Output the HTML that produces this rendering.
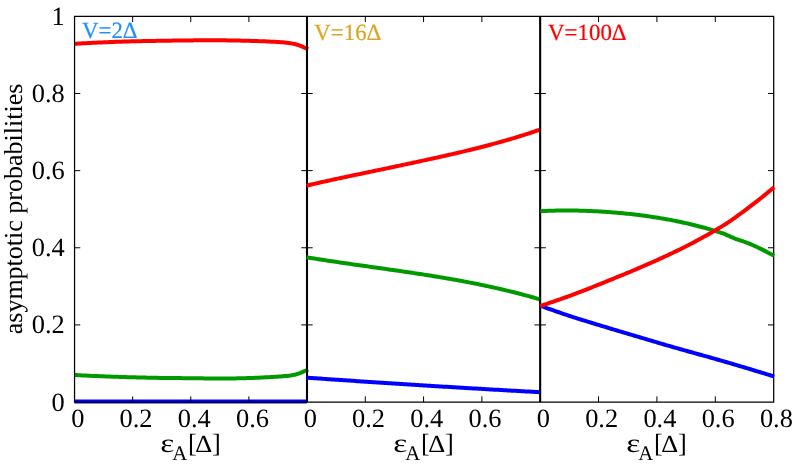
<!DOCTYPE html>
<html><head><meta charset="utf-8"><title>asymptotic probabilities</title>
<style>
html,body{margin:0;padding:0;background:#fff;}
body{width:800px;height:467px;overflow:hidden;position:relative;font-family:"Liberation Serif",serif;}
</style></head><body>
<svg width="800" height="467" viewBox="0 0 800 467" style="position:absolute;left:0;top:0">
<rect width="800" height="467" fill="#fff"/>
<path d="M74.50 43.80L76.46 43.69L78.43 43.58L80.39 43.48L82.36 43.37L84.32 43.27L86.29 43.16L88.25 43.06L90.22 42.97L92.18 42.87L94.15 42.77L96.11 42.68L98.08 42.59L100.04 42.50L102.01 42.41L103.97 42.32L105.94 42.24L107.90 42.16L109.86 42.08L111.83 42.00L113.79 41.93L115.76 41.86L117.72 41.78L119.69 41.72L121.65 41.65L123.62 41.59L125.58 41.53L127.55 41.47L129.51 41.41L131.48 41.36L133.44 41.31L135.41 41.26L137.37 41.22L139.34 41.17L141.30 41.13L143.26 41.09L145.23 41.05L147.19 41.02L149.16 40.98L151.12 40.95L153.09 40.91L155.05 40.88L157.02 40.85L158.98 40.82L160.95 40.79L162.91 40.75L164.88 40.72L166.84 40.69L168.81 40.66L170.77 40.64L172.74 40.61L174.70 40.58L176.66 40.55L178.63 40.53L180.59 40.50L182.56 40.48L184.52 40.46L186.49 40.44L188.45 40.42L190.42 40.40L192.38 40.38L194.35 40.36L196.31 40.35L198.28 40.33L200.24 40.32L202.21 40.31L204.17 40.30L206.14 40.30L208.10 40.30L210.06 40.29L212.03 40.29L213.99 40.30L215.96 40.30L217.92 40.31L219.89 40.32L221.85 40.34L223.82 40.35L225.78 40.37L227.75 40.39L229.71 40.42L231.68 40.45L233.64 40.48L235.61 40.51L237.57 40.55L239.54 40.59L241.50 40.63L243.46 40.68L245.43 40.73L247.39 40.78L249.36 40.83L251.32 40.89L253.29 40.95L255.25 41.01L257.22 41.07L259.18 41.14L261.15 41.21L263.11 41.29L265.08 41.36L267.04 41.45L269.01 41.53L270.97 41.63L272.94 41.72L274.90 41.82L276.86 41.94L278.83 42.06L280.79 42.20L282.76 42.36L284.72 42.55L286.69 42.76L288.65 42.99L290.62 43.27L292.58 43.60L294.55 44.00L296.51 44.47L298.48 45.06L300.44 45.80L302.41 46.69L304.37 47.61L306.34 48.43L308.30 49.00" fill="none" stroke="#ff0000" stroke-width="4.0" stroke-linecap="butt" stroke-linejoin="round"/>
<path d="M74.50 375.00L76.46 375.11L78.43 375.21L80.39 375.32L82.36 375.42L84.32 375.51L86.29 375.61L88.25 375.70L90.22 375.79L92.18 375.88L94.15 375.96L96.11 376.04L98.08 376.12L100.04 376.20L102.01 376.28L103.97 376.35L105.94 376.43L107.90 376.50L109.86 376.57L111.83 376.63L113.79 376.70L115.76 376.76L117.72 376.83L119.69 376.89L121.65 376.95L123.62 377.01L125.58 377.07L127.55 377.13L129.51 377.19L131.48 377.24L133.44 377.30L135.41 377.35L137.37 377.41L139.34 377.46L141.30 377.51L143.26 377.56L145.23 377.61L147.19 377.65L149.16 377.70L151.12 377.74L153.09 377.78L155.05 377.82L157.02 377.85L158.98 377.88L160.95 377.91L162.91 377.94L164.88 377.97L166.84 377.99L168.81 378.01L170.77 378.03L172.74 378.05L174.70 378.06L176.66 378.08L178.63 378.10L180.59 378.11L182.56 378.13L184.52 378.15L186.49 378.16L188.45 378.18L190.42 378.20L192.38 378.23L194.35 378.25L196.31 378.28L198.28 378.30L200.24 378.33L202.21 378.35L204.17 378.38L206.14 378.40L208.10 378.42L210.06 378.44L212.03 378.46L213.99 378.48L215.96 378.49L217.92 378.50L219.89 378.50L221.85 378.50L223.82 378.50L225.78 378.49L227.75 378.47L229.71 378.46L231.68 378.43L233.64 378.41L235.61 378.38L237.57 378.34L239.54 378.30L241.50 378.25L243.46 378.20L245.43 378.15L247.39 378.09L249.36 378.02L251.32 377.95L253.29 377.88L255.25 377.80L257.22 377.72L259.18 377.63L261.15 377.54L263.11 377.44L265.08 377.35L267.04 377.25L269.01 377.15L270.97 377.05L272.94 376.95L274.90 376.84L276.86 376.72L278.83 376.58L280.79 376.44L282.76 376.28L284.72 376.09L286.69 375.89L288.65 375.66L290.62 375.40L292.58 375.09L294.55 374.70L296.51 374.22L298.48 373.63L300.44 372.90L302.41 372.05L304.37 371.17L306.34 370.38L308.30 369.80" fill="none" stroke="#009900" stroke-width="4.0" stroke-linecap="butt" stroke-linejoin="round"/>
<path d="M74.50 401.45L307.00 401.45" fill="none" stroke="#0000ff" stroke-width="4.0" stroke-linecap="butt" stroke-linejoin="round"/>
<path d="M74.55 16.35H773.7V402.05H74.55Z" fill="none" stroke="#000" stroke-width="1.25"/>
<path d="M307.0 16.35V402.05" stroke="#000" stroke-width="2.1"/>
<path d="M540.15 16.35V402.05" stroke="#000" stroke-width="2.1"/>
<path d="M132.66 402.05v-5.7M132.66 16.35v5.7M190.77 402.05v-5.7M190.77 16.35v5.7M248.89 402.05v-5.7M248.89 16.35v5.7M365.29 402.05v-5.7M365.29 16.35v5.7M423.57 402.05v-5.7M423.57 16.35v5.7M481.86 402.05v-5.7M481.86 16.35v5.7M598.54 402.05v-5.7M598.54 16.35v5.7M656.92 402.05v-5.7M656.92 16.35v5.7M715.31 402.05v-5.7M715.31 16.35v5.7M74.55 324.91h5.7M773.7 324.91h-5.7M301.3 324.91h11.4M534.4499999999999 324.91h11.4M74.55 247.77h5.7M773.7 247.77h-5.7M301.3 247.77h11.4M534.4499999999999 247.77h11.4M74.55 170.63h5.7M773.7 170.63h-5.7M301.3 170.63h11.4M534.4499999999999 170.63h11.4M74.55 93.49h5.7M773.7 93.49h-5.7M301.3 93.49h11.4M534.4499999999999 93.49h11.4" stroke="#000" stroke-width="1" fill="none"/>
<path d="M306.50 185.71L308.46 185.24L310.41 184.78L312.37 184.32L314.33 183.86L316.28 183.41L318.24 182.96L320.19 182.51L322.15 182.07L324.11 181.63L326.06 181.20L328.02 180.76L329.98 180.33L331.93 179.91L333.89 179.48L335.84 179.06L337.80 178.64L339.76 178.22L341.71 177.80L343.67 177.38L345.63 176.97L347.58 176.56L349.54 176.14L351.49 175.73L353.45 175.32L355.41 174.91L357.36 174.50L359.32 174.09L361.28 173.68L363.23 173.28L365.19 172.87L367.15 172.46L369.10 172.05L371.06 171.64L373.01 171.23L374.97 170.82L376.93 170.41L378.88 170.00L380.84 169.59L382.80 169.17L384.75 168.76L386.71 168.35L388.66 167.94L390.62 167.52L392.58 167.11L394.53 166.70L396.49 166.28L398.45 165.87L400.40 165.45L402.36 165.03L404.32 164.62L406.27 164.20L408.23 163.78L410.18 163.36L412.14 162.94L414.10 162.52L416.05 162.10L418.01 161.68L419.97 161.26L421.92 160.84L423.88 160.41L425.83 159.99L427.79 159.57L429.75 159.14L431.70 158.71L433.66 158.29L435.62 157.86L437.57 157.43L439.53 157.00L441.48 156.57L443.44 156.13L445.40 155.69L447.35 155.25L449.31 154.81L451.27 154.36L453.22 153.92L455.18 153.46L457.14 153.01L459.09 152.55L461.05 152.09L463.00 151.62L464.96 151.15L466.92 150.68L468.87 150.20L470.83 149.72L472.79 149.24L474.74 148.75L476.70 148.26L478.65 147.76L480.61 147.26L482.57 146.76L484.52 146.25L486.48 145.73L488.44 145.22L490.39 144.70L492.35 144.17L494.31 143.64L496.26 143.10L498.22 142.56L500.17 142.02L502.13 141.47L504.09 140.91L506.04 140.35L508.00 139.79L509.96 139.21L511.91 138.64L513.87 138.06L515.82 137.47L517.78 136.87L519.74 136.27L521.69 135.66L523.65 135.04L525.61 134.42L527.56 133.78L529.52 133.15L531.47 132.50L533.43 131.85L535.39 131.18L537.34 130.51L539.30 129.84" fill="none" stroke="#ff0000" stroke-width="4.0" stroke-linecap="butt" stroke-linejoin="round"/>
<path d="M306.50 257.32L308.46 257.64L310.41 257.95L312.37 258.26L314.33 258.57L316.28 258.88L318.24 259.18L320.19 259.49L322.15 259.79L324.11 260.09L326.06 260.38L328.02 260.68L329.98 260.97L331.93 261.27L333.89 261.56L335.84 261.85L337.80 262.14L339.76 262.42L341.71 262.71L343.67 262.99L345.63 263.28L347.58 263.56L349.54 263.84L351.49 264.12L353.45 264.40L355.41 264.68L357.36 264.96L359.32 265.24L361.28 265.52L363.23 265.80L365.19 266.07L367.15 266.35L369.10 266.63L371.06 266.90L373.01 267.18L374.97 267.46L376.93 267.73L378.88 268.01L380.84 268.29L382.80 268.57L384.75 268.84L386.71 269.12L388.66 269.40L390.62 269.68L392.58 269.96L394.53 270.25L396.49 270.53L398.45 270.81L400.40 271.10L402.36 271.38L404.32 271.67L406.27 271.96L408.23 272.25L410.18 272.54L412.14 272.83L414.10 273.12L416.05 273.42L418.01 273.71L419.97 274.01L421.92 274.31L423.88 274.62L425.83 274.92L427.79 275.23L429.75 275.54L431.70 275.85L433.66 276.16L435.62 276.48L437.57 276.79L439.53 277.12L441.48 277.44L443.44 277.77L445.40 278.10L447.35 278.43L449.31 278.77L451.27 279.11L453.22 279.45L455.18 279.80L457.14 280.15L459.09 280.51L461.05 280.87L463.00 281.24L464.96 281.60L466.92 281.98L468.87 282.35L470.83 282.73L472.79 283.12L474.74 283.51L476.70 283.90L478.65 284.30L480.61 284.70L482.57 285.11L484.52 285.52L486.48 285.94L488.44 286.36L490.39 286.79L492.35 287.22L494.31 287.65L496.26 288.10L498.22 288.54L500.17 288.99L502.13 289.45L504.09 289.91L506.04 290.38L508.00 290.85L509.96 291.32L511.91 291.81L513.87 292.29L515.82 292.79L517.78 293.29L519.74 293.79L521.69 294.30L523.65 294.82L525.61 295.35L527.56 295.88L529.52 296.42L531.47 296.97L533.43 297.53L535.39 298.09L537.34 298.66L539.30 299.24" fill="none" stroke="#009900" stroke-width="4.0" stroke-linecap="butt" stroke-linejoin="round"/>
<path d="M306.50 377.64L308.46 377.78L310.41 377.91L312.37 378.05L314.33 378.19L316.28 378.32L318.24 378.46L320.19 378.60L322.15 378.73L324.11 378.87L326.06 379.00L328.02 379.14L329.98 379.27L331.93 379.41L333.89 379.54L335.84 379.68L337.80 379.81L339.76 379.94L341.71 380.08L343.67 380.21L345.63 380.34L347.58 380.47L349.54 380.60L351.49 380.74L353.45 380.87L355.41 381.00L357.36 381.13L359.32 381.26L361.28 381.39L363.23 381.52L365.19 381.65L367.15 381.78L369.10 381.91L371.06 382.04L373.01 382.17L374.97 382.30L376.93 382.42L378.88 382.55L380.84 382.68L382.80 382.81L384.75 382.93L386.71 383.06L388.66 383.19L390.62 383.31L392.58 383.44L394.53 383.57L396.49 383.69L398.45 383.82L400.40 383.94L402.36 384.07L404.32 384.19L406.27 384.32L408.23 384.44L410.18 384.56L412.14 384.69L414.10 384.81L416.05 384.93L418.01 385.06L419.97 385.18L421.92 385.30L423.88 385.42L425.83 385.54L427.79 385.67L429.75 385.79L431.70 385.91L433.66 386.03L435.62 386.15L437.57 386.27L439.53 386.39L441.48 386.51L443.44 386.63L445.40 386.74L447.35 386.86L449.31 386.98L451.27 387.10L453.22 387.22L455.18 387.34L457.14 387.45L459.09 387.57L461.05 387.69L463.00 387.80L464.96 387.92L466.92 388.03L468.87 388.15L470.83 388.27L472.79 388.38L474.74 388.50L476.70 388.61L478.65 388.72L480.61 388.84L482.57 388.95L484.52 389.07L486.48 389.18L488.44 389.29L490.39 389.41L492.35 389.52L494.31 389.63L496.26 389.74L498.22 389.85L500.17 389.96L502.13 390.08L504.09 390.19L506.04 390.30L508.00 390.41L509.96 390.52L511.91 390.63L513.87 390.74L515.82 390.85L517.78 390.96L519.74 391.06L521.69 391.17L523.65 391.28L525.61 391.39L527.56 391.50L529.52 391.60L531.47 391.71L533.43 391.82L535.39 391.92L537.34 392.03L539.30 392.14" fill="none" stroke="#0000ff" stroke-width="4.0" stroke-linecap="butt" stroke-linejoin="round"/>
<path d="M540.30 211.20L542.26 211.10L544.23 211.00L546.19 210.91L548.16 210.83L550.12 210.76L552.09 210.70L554.05 210.65L556.02 210.60L557.98 210.57L559.95 210.53L561.91 210.51L563.88 210.50L565.84 210.49L567.81 210.49L569.77 210.50L571.74 210.51L573.70 210.53L575.66 210.56L577.63 210.60L579.59 210.64L581.56 210.69L583.52 210.75L585.49 210.81L587.45 210.88L589.42 210.96L591.38 211.04L593.35 211.13L595.31 211.23L597.28 211.33L599.24 211.44L601.21 211.55L603.17 211.68L605.14 211.81L607.10 211.94L609.06 212.08L611.03 212.23L612.99 212.39L614.96 212.55L616.92 212.72L618.89 212.89L620.85 213.07L622.82 213.26L624.78 213.46L626.75 213.66L628.71 213.87L630.68 214.08L632.64 214.30L634.61 214.53L636.57 214.76L638.54 215.01L640.50 215.26L642.46 215.51L644.43 215.77L646.39 216.05L648.36 216.32L650.32 216.61L652.29 216.90L654.25 217.20L656.22 217.51L658.18 217.82L660.15 218.15L662.11 218.48L664.08 218.82L666.04 219.16L668.01 219.52L669.97 219.88L671.94 220.26L673.90 220.64L675.86 221.03L677.83 221.43L679.79 221.83L681.76 222.25L683.72 222.68L685.69 223.11L687.65 223.56L689.62 224.02L691.58 224.48L693.55 224.96L695.51 225.44L697.48 225.94L699.44 226.45L701.41 226.96L703.37 227.49L705.34 228.03L707.30 228.59L709.26 229.15L711.23 229.73L713.19 230.31L715.16 230.91L717.12 231.53L719.09 232.15L721.05 232.79L723.02 233.45L724.98 234.21L726.95 235.05L728.91 235.93L730.88 236.83L732.84 237.70L734.81 238.53L736.77 239.27L738.74 239.93L740.70 240.54L742.66 241.15L744.63 241.81L746.59 242.56L748.56 243.35L750.52 244.16L752.49 245.00L754.45 245.87L756.42 246.77L758.38 247.70L760.35 248.65L762.31 249.62L764.28 250.61L766.24 251.62L768.21 252.65L770.17 253.69L772.14 254.76L774.10 255.85" fill="none" stroke="#009900" stroke-width="4.0" stroke-linecap="butt" stroke-linejoin="round"/>
<path d="M540.30 305.77L542.26 306.46L544.23 307.16L546.19 307.85L548.16 308.55L550.12 309.24L552.09 309.93L554.05 310.62L556.02 311.31L557.98 311.99L559.95 312.67L561.91 313.35L563.88 314.02L565.84 314.69L567.81 315.35L569.77 316.00L571.74 316.65L573.70 317.29L575.66 317.92L577.63 318.54L579.59 319.15L581.56 319.76L583.52 320.36L585.49 320.96L587.45 321.57L589.42 322.17L591.38 322.77L593.35 323.37L595.31 323.97L597.28 324.57L599.24 325.16L601.21 325.76L603.17 326.36L605.14 326.95L607.10 327.54L609.06 328.14L611.03 328.73L612.99 329.32L614.96 329.91L616.92 330.50L618.89 331.09L620.85 331.68L622.82 332.27L624.78 332.86L626.75 333.44L628.71 334.03L630.68 334.62L632.64 335.20L634.61 335.79L636.57 336.37L638.54 336.95L640.50 337.54L642.46 338.12L644.43 338.70L646.39 339.28L648.36 339.86L650.32 340.44L652.29 341.03L654.25 341.61L656.22 342.18L658.18 342.76L660.15 343.34L662.11 343.92L664.08 344.49L666.04 345.07L668.01 345.63L669.97 346.20L671.94 346.76L673.90 347.32L675.86 347.88L677.83 348.44L679.79 349.00L681.76 349.55L683.72 350.10L685.69 350.65L687.65 351.20L689.62 351.75L691.58 352.30L693.55 352.85L695.51 353.40L697.48 353.95L699.44 354.50L701.41 355.05L703.37 355.59L705.34 356.14L707.30 356.69L709.26 357.25L711.23 357.80L713.19 358.35L715.16 358.91L717.12 359.47L719.09 360.02L721.05 360.58L723.02 361.15L724.98 361.71L726.95 362.28L728.91 362.85L730.88 363.43L732.84 364.00L734.81 364.58L736.77 365.17L738.74 365.75L740.70 366.33L742.66 366.92L744.63 367.51L746.59 368.10L748.56 368.69L750.52 369.28L752.49 369.87L754.45 370.47L756.42 371.06L758.38 371.66L760.35 372.26L762.31 372.86L764.28 373.46L766.24 374.06L768.21 374.66L770.17 375.27L772.14 375.87L774.10 376.46" fill="none" stroke="#0000ff" stroke-width="4.0" stroke-linecap="butt" stroke-linejoin="round"/>
<path d="M540.30 306.12L542.26 305.44L544.23 304.76L546.19 304.08L548.16 303.41L550.12 302.73L552.09 302.05L554.05 301.38L556.02 300.70L557.98 300.01L559.95 299.33L561.91 298.64L563.88 297.95L565.84 297.25L567.81 296.54L569.77 295.83L571.74 295.11L573.70 294.38L575.66 293.65L577.63 292.90L579.59 292.15L581.56 291.39L583.52 290.62L585.49 289.85L587.45 289.08L589.42 288.30L591.38 287.52L593.35 286.74L595.31 285.96L597.28 285.17L599.24 284.39L601.21 283.60L603.17 282.81L605.14 282.01L607.10 281.22L609.06 280.42L611.03 279.62L612.99 278.82L614.96 278.02L616.92 277.22L618.89 276.42L620.85 275.62L622.82 274.81L624.78 274.00L626.75 273.19L628.71 272.37L630.68 271.55L632.64 270.72L634.61 269.89L636.57 269.05L638.54 268.21L640.50 267.37L642.46 266.52L644.43 265.67L646.39 264.81L648.36 263.95L650.32 263.09L652.29 262.22L654.25 261.34L656.22 260.47L658.18 259.58L660.15 258.70L662.11 257.81L664.08 256.91L666.04 256.00L668.01 255.09L669.97 254.16L671.94 253.23L673.90 252.30L675.86 251.35L677.83 250.40L679.79 249.43L681.76 248.46L683.72 247.48L685.69 246.49L687.65 245.49L689.62 244.48L691.58 243.46L693.55 242.43L695.51 241.39L697.48 240.34L699.44 239.28L701.41 238.20L703.37 237.12L705.34 236.03L707.30 234.92L709.26 233.80L711.23 232.68L713.19 231.54L715.16 230.38L717.12 229.22L719.09 228.04L721.05 226.85L723.02 225.65L724.98 224.43L726.95 223.18L728.91 221.89L730.88 220.56L732.84 219.19L734.81 217.80L736.77 216.38L738.74 214.94L740.70 213.49L742.66 212.03L744.63 210.57L746.59 209.11L748.56 207.64L750.52 206.15L752.49 204.65L754.45 203.14L756.42 201.61L758.38 200.07L760.35 198.51L762.31 196.94L764.28 195.35L766.24 193.75L768.21 192.13L770.17 190.50L772.14 188.85L774.10 187.21" fill="none" stroke="#ff0000" stroke-width="4.0" stroke-linecap="butt" stroke-linejoin="round"/>
<g font-family="Liberation Serif, serif" font-size="26.4" fill="#000" text-rendering="geometricPrecision" style="mix-blend-mode:multiply">
<text x="64.8" y="411.45" text-anchor="end">0</text>
<text x="64.8" y="333.21" text-anchor="end">0.2</text>
<text x="64.8" y="256.07" text-anchor="end">0.4</text>
<text x="64.8" y="178.93" text-anchor="end">0.6</text>
<text x="64.8" y="101.79" text-anchor="end">0.8</text>
<text x="64.8" y="25.25" text-anchor="end">1</text>
<text x="77.80" y="426.9" text-anchor="middle">0</text>
<text x="136.05" y="426.9" text-anchor="middle">0.2</text>
<text x="194.30" y="426.9" text-anchor="middle">0.4</text>
<text x="252.55" y="426.9" text-anchor="middle">0.6</text>
<text x="310.25" y="426.9" text-anchor="middle">0</text>
<text x="368.50" y="426.9" text-anchor="middle">0.2</text>
<text x="426.75" y="426.9" text-anchor="middle">0.4</text>
<text x="485.00" y="426.9" text-anchor="middle">0.6</text>
<text x="543.40" y="426.9" text-anchor="middle">0</text>
<text x="601.65" y="426.9" text-anchor="middle">0.2</text>
<text x="659.90" y="426.9" text-anchor="middle">0.4</text>
<text x="718.15" y="426.9" text-anchor="middle">0.6</text>
<text x="776.40" y="426.9" text-anchor="middle">0.8</text>
<text transform="translate(160.20,451.5) scale(1.26,1)">ε</text>
<text x="172.20" y="459.75" font-size="20.8">A</text>
<text x="187.90" y="451.9">[</text>
<text transform="translate(195.30,451.5) scale(1,0.93)">Δ</text>
<text x="212.10" y="451.9">]</text>
<text transform="translate(393.20,451.5) scale(1.26,1)">ε</text>
<text x="405.20" y="459.75" font-size="20.8">A</text>
<text x="420.90" y="451.9">[</text>
<text transform="translate(428.30,451.5) scale(1,0.93)">Δ</text>
<text x="445.10" y="451.9">]</text>
<text transform="translate(626.20,451.5) scale(1.26,1)">ε</text>
<text x="638.20" y="459.75" font-size="20.8">A</text>
<text x="653.90" y="451.9">[</text>
<text transform="translate(661.30,451.5) scale(1,0.93)">Δ</text>
<text x="678.10" y="451.9">]</text>
<text transform="translate(22.2,209.0) rotate(-90)" text-anchor="middle" font-size="26">asymptotic probabilities</text>
</g>
<g font-family="Liberation Serif, serif" font-size="23.3" text-rendering="geometricPrecision" style="mix-blend-mode:multiply">
<text transform="translate(82,37.9) scale(0.982,1)" fill="#1e90ff" stroke="#1e90ff" stroke-width="0.22">V=2Δ</text>
<text transform="translate(314.3,39.5) scale(0.982,1)" fill="#daa520" stroke="#daa520" stroke-width="0.22">V=16Δ</text>
<text transform="translate(548.1,39.5) scale(0.982,1)" fill="#ff0000" stroke="#ff0000" stroke-width="0.22">V=100Δ</text>
</g>
</svg>
</body></html>
